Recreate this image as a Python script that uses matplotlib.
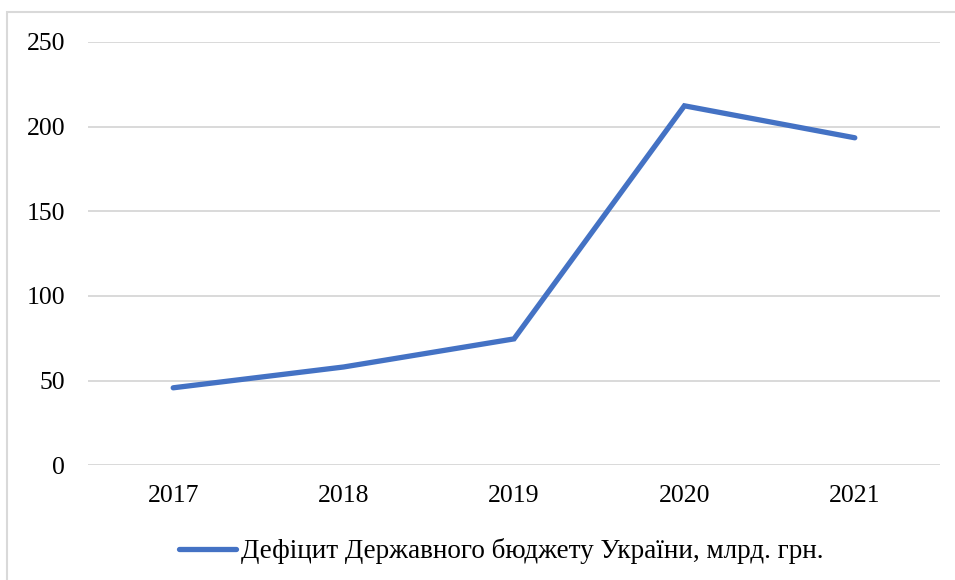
import matplotlib
matplotlib.use('Agg')
import matplotlib.pyplot as plt
from matplotlib.patches import Rectangle

# data
years = ['2017', '2018', '2019', '2020', '2021']
deficit = [45.7, 58.0, 74.6, 212.3, 193.4]
label = 'Дефіцит Державного бюджету України, млрд. грн.'

plt.rcParams['font.family'] = ['Liberation Serif', 'DejaVu Serif']

fig = plt.figure(figsize=(9.55, 5.8), dpi=100)
ax = fig.add_axes([88 / 955, 0.198, (940 - 88) / 955, 0.7296])

x = range(len(years))
ax.plot(x, deficit, color='#4472C4', lw=3.8, solid_capstyle='round',
        solid_joinstyle='miter', label=label)

ax.set_xlim(-0.5, len(years) - 0.5)
ax.set_ylim(0, 250)
ax.set_yticks(range(0, 251, 50))
ax.set_xticks(list(x))
ax.set_xticklabels(years)
ax.tick_params(length=0, labelsize=18.5, colors='black')
ax.tick_params(axis='y', pad=16.5)
ax.tick_params(axis='x', pad=14)
ax.grid(axis='y', color='#d9d9d9', lw=1.4)
ax.set_axisbelow(True)
for s in ax.spines.values():
    s.set_visible(False)

fig.legend(loc='center', bbox_to_anchor=(0.525, 0.05), frameon=False,
           fontsize=19.5, handlelength=2.1, handletextpad=0.2)

# light frame around the chart, clipped at the right/bottom like the reference
fig.patches.append(Rectangle((7 / 955, -0.05), 1.0, 0.95 + (580 - 12) / 580 - 0.9,
                             transform=fig.transFigure, fill=False,
                             edgecolor='#d9d9d9', lw=1.5))

fig.savefig('out.png', dpi=100)
